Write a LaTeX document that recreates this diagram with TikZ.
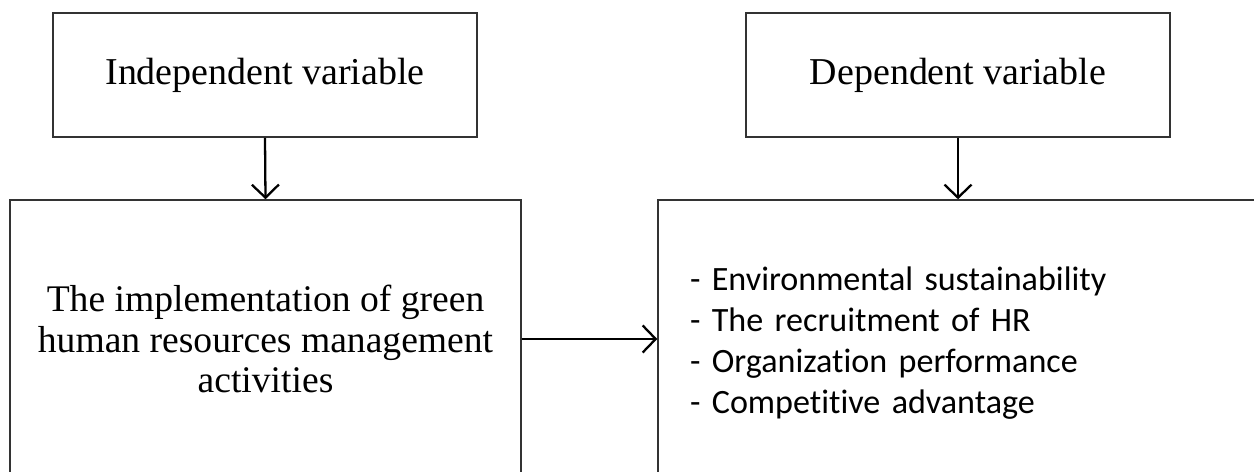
\documentclass[tikz,border=0pt]{standalone}
\usepackage{fontspec}
\setmainfont{Liberation Serif}
\newfontfamily\listfont[Ligatures={NoCommon}]{Carlito}
\usepackage{xcolor}
\usetikzlibrary{positioning,arrows.meta}
\definecolor{boxstroke}{HTML}{333333}
\definecolor{linkstroke}{HTML}{000000}
\tikzset{
  varbox/.style={draw=boxstroke, line width=0.9pt, minimum width=8.48cm,
                 minimum height=2.48cm, inner sep=0pt,
                 font=\fontsize{21.6}{27}\selectfont},
  bigbox/.style={draw=boxstroke, line width=0.9pt, inner ysep=0pt},
  linkarrow/.style={draw=linkstroke, line width=1.3pt,
                    -{Straight Barb[length=0.26cm, width=0.54cm, line width=1.3pt]}}
}

\begin{document}
\begin{tikzpicture}[x=0.02cm, y=-0.02cm]

  \useasboundingbox (0,0) rectangle (1254,472);
  \clip (0,0) rectangle (1254,472);

  % ===== Top row: variable headings =====
  \node[varbox] (ivar) at (265, 75) {Independent variable};
  \node[varbox] (dvar) at (958, 75) {Dependent variable};

  % ===== Bottom row (boxes run past the lower and right edges) =====
  \node[bigbox, minimum width=10.22cm, minimum height=5.56cm,
        align=center, inner xsep=0pt,
        font=\fontsize{21.4}{23.2}\selectfont] (green) at (265.5, 339)
    {The implementation of green\\ human resources management\\ activities};

  \node[bigbox, minimum width=16cm, minimum height=5.72cm,
        text width=14.72cm, inner xsep=0.64cm, align=left,
        font=\listfont\fontsize{19.4}{23.4}\selectfont] (results) at (1058, 343)
    {- Environmental sustainability\\
     - The recruitment of HR\\
     - Organization performance\\
     - Competitive advantage};

  % ===== Arrows =====
  \draw[linkarrow] (ivar.south) -- (green.north);
  \draw[linkarrow] (dvar.south) -- (dvar.south |- results.north);
  \draw[linkarrow] (green.east) -- (green.east -| results.west);

\end{tikzpicture}
\end{document}
